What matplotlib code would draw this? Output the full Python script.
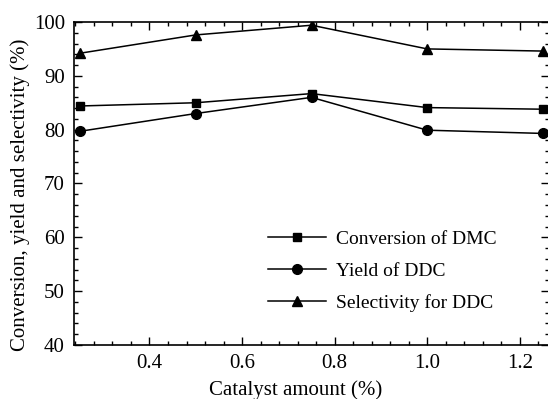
import matplotlib
matplotlib.use("Agg")
import matplotlib.pyplot as plt
from matplotlib.ticker import MultipleLocator

plt.rcParams['font.family'] = ['Liberation Serif', 'DejaVu Serif']
plt.rcParams['mathtext.fontset'] = 'stix'

catalyst = [0.25, 0.5, 0.75, 1.0, 1.25]
conversion_dmc = [84.4, 85.0, 86.7, 84.1, 83.8]
yield_ddc = [79.7, 83.0, 86.0, 79.9, 79.3]
selectivity_ddc = [94.2, 97.6, 99.4, 95.0, 94.6]

fig = plt.figure(figsize=(5.48, 3.99), dpi=100)
W, H = 548, 399
ax = fig.add_axes([74 / W, 1 - 345 / H, (549 - 74) / W, (345 - 22) / H])

ax.plot(catalyst, conversion_dmc, color='black', marker='s', markersize=6, lw=1.1, label='Conversion of DMC')
ax.plot(catalyst, yield_ddc, color='black', marker='o', markersize=7, lw=1.1, label='Yield of DDC')
ax.plot(catalyst, selectivity_ddc, color='black', marker='^', markersize=7.5, lw=1.1, label='Selectivity for DDC')

ax.set_xlim(0.237, 1.263)
ax.set_ylim(40, 100)
ax.xaxis.set_minor_locator(MultipleLocator(0.04))
ax.yaxis.set_major_locator(MultipleLocator(10))
ax.yaxis.set_minor_locator(MultipleLocator(2))
ax.set_xticks([0.4, 0.6, 0.8, 1.0, 1.2])
ax.set_xticklabels(['0.4', '0.6', '0.8', '1.0', '1.2'])
ax.tick_params(which='both', direction='in', top=True, right=True, labelsize=15, pad=6.5)
ax.tick_params(which='major', length=6, width=1)
ax.tick_params(which='minor', length=3, width=1)
for s in ax.spines.values():
    s.set_linewidth(1.2)

ax.set_xlabel('Catalyst amount (%)', fontsize=15)
ax.set_ylabel('Conversion, yield and selectivity (%)', fontsize=15)
ax.xaxis.set_label_coords((296 - 74) / 475, (345 - 380) / 323)
ax.yaxis.set_label_coords((30 - 74) / 475, (345 - 194.5) / 323)

ax.legend(loc='upper left', bbox_to_anchor=(0.408, 0.356), frameon=False, fontsize=14,
          handlelength=3.0, handletextpad=0.5, labelspacing=0.75, borderaxespad=0, borderpad=0)

fig.savefig('out.png', dpi=100)
